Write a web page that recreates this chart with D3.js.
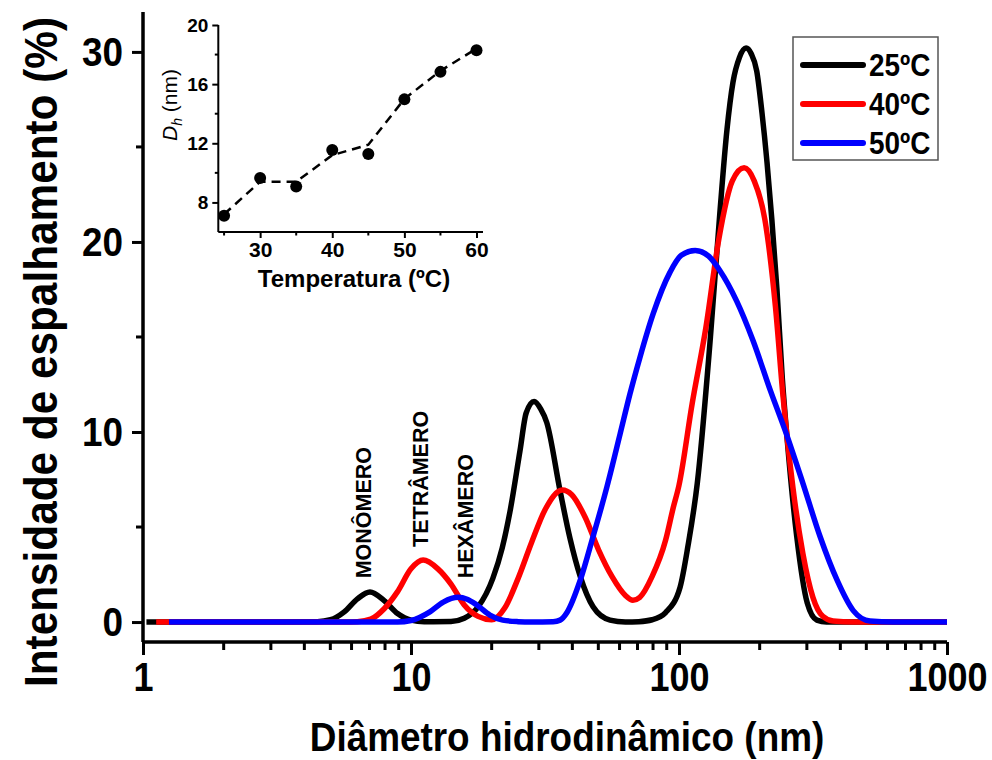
<!DOCTYPE html>
<html><head><meta charset="utf-8">
<script src="https://cdn.jsdelivr.net/npm/d3@7"></script>
<style>
html,body{margin:0;padding:0;background:#fff;}
svg text{font-family:"Liberation Sans",Arial,sans-serif;font-weight:bold;fill:#000;}
</style></head>
<body><svg id="chart" width="992" height="760"></svg>
<script>
// ---------- main chart data (diameter nm, intensity %) ----------
const diam25 = [1.03,3.0,4.47,5.01,5.62,6.31,7.03,7.94,8.91,10,11.2,14.1,15.8,17.8,20.2,21.9,23.4,25.5,26.9,28.8,30.5,32.1,36.0,39.2,42.8,47.8,55.3,63.1,70.8,79.4,89.1,101,108,117,131,142,151,159,168,178,186,195,204,213,222,232,243,253,275,301,327,355,1000];
const int25  = [0,0,0.02,0.12,0.52,1.22,1.58,1.13,0.45,0.1,0.02,0.03,0.2,0.8,2.3,3.9,5.8,9.0,11.0,11.6,11.2,10.5,6.9,4.4,2.4,0.8,0.1,0,0.02,0.12,0.5,1.85,4.0,7.3,15,21.5,25.9,28.4,29.7,30.2,29.9,29.0,26.8,24.2,21.2,17.5,12.8,9.7,4.5,1.0,0.1,0,0];

const diam40 = [1.12,5.62,6.31,7.08,7.94,8.91,10,11.1,12.6,14.1,15.8,17.8,20.0,22.4,25.1,28.2,31.6,36.7,39.8,44.7,50.1,56.2,63.1,67.3,71.4,79.4,89.1,95.1,100,112,126,141,158,175,191,209,229,244,266,290,316,344,376,447,1000];
const int40  = [0,0,0.02,0.15,0.7,1.6,2.8,3.26,2.8,2.0,0.9,0.3,0.12,0.75,2.3,4.2,5.9,6.95,6.7,5.5,3.8,2.4,1.4,1.15,1.3,2.4,4.3,6.0,7.2,11.5,15.5,20.2,23.2,23.9,23.2,21.2,16.6,12.0,7.1,3.6,1.3,0.3,0.05,0,0];

const diam50 = [1.25,8.91,10,11.8,13.2,15.0,16.2,17.6,19.7,22.0,25.1,28.2,33.9,36.0,38.2,42.8,47.8,53.8,60.3,65.6,71.4,80.0,92.5,102,115,129,142,164,189,219,253,290,336,389,447,516,631,1000];
const int50  = [0,0,0.08,0.55,1.05,1.3,1.2,0.9,0.37,0.1,0.02,0,0.02,0.1,0.5,2.2,4.5,7.1,9.9,12.0,13.9,16.2,18.4,19.3,19.55,19.25,18.5,16.9,14.8,12.2,9.8,7.3,4.5,2.2,0.6,0.05,0,0];

const seriesNames  = ["25ºC","40ºC","50ºC"];
const seriesColors = ["#000000","#ff0000","#0000ff"];

const xTickValues = [1,10,100,1000];
const yTickValues = [0,10,20,30];
const yMinorTicks = [5,15,25];

const peakLabels = ["MONÔMERO","TETRÂMERO","HEXÂMERO"];
const peakLabelDiam = [6.65,10.8,16.0];
const peakLabelBase = [2.3,3.95,2.3];

// ---------- inset data ----------
const insetTemp  = [25,30,35,40,45,50,55,60];
const insetDh    = [7.1,9.65,9.08,11.55,11.28,14.97,16.83,18.3];
const insetTrend = [7.2,9.4,9.4,11.2,11.9,15.0,16.9,18.4];
const insetXTicks = [30,40,50,60];
const insetXMinor = [25,35,45,55];
const insetYTicks = [8,12,16,20];
const insetYMinor = [10,14,18];

const FONT = '"Liberation Sans",Arial,sans-serif';
const SX = 0.9; // condensed look of the reference lettering
const svg = d3.select("#chart");

// ---------- main scales ----------
const x = d3.scaleLog().domain([1,1000]).range([143,947]);
const y = d3.scaleLinear().domain([-1.05,32.1]).range([642,12]);

const series = [
  {name:seriesNames[0], color:seriesColors[0], pts:diam25.map((d,i)=>[d,int25[i]])},
  {name:seriesNames[1], color:seriesColors[1], pts:diam40.map((d,i)=>[d,int40[i]])},
  {name:seriesNames[2], color:seriesColors[2], pts:diam50.map((d,i)=>[d,int50[i]])}
];

const line = d3.line().x(d=>x(d[0])).y(d=>y(d[1])).curve(d3.curveMonotoneX);
svg.append("g").selectAll("path").data(series).join("path")
  .attr("d",d=>line(d.pts)).attr("fill","none")
  .attr("stroke",d=>d.color).attr("stroke-width",5.5)
  .attr("stroke-linejoin","round").attr("stroke-linecap","butt");

// axes
const minorX = [];
[1,10,100].forEach(b=>{for(let k=2;k<=9;k++) minorX.push(b*k);});

const xAxis = svg.append("g").attr("transform",`translate(0,${y.range()[0]})`);
xAxis.call(d3.axisBottom(x).tickValues(xTickValues).tickFormat(d3.format("d")).tickSize(13).tickPadding(8));
xAxis.append("g").selectAll("line").data(minorX).join("line")
  .attr("x1",d=>x(d)).attr("x2",d=>x(d)).attr("y1",0).attr("y2",8)
  .attr("stroke","#000").attr("stroke-width",3);
xAxis.select(".domain").attr("d",`M${x.range()[0]},0H${x.range()[1]}`).attr("stroke-width",3.5);
xAxis.selectAll(".tick line").attr("stroke-width",3);
xAxis.selectAll(".tick text").attr("font-size",40).attr("font-family",FONT).attr("font-weight","bold")
  .attr("transform",`scale(${SX},1)`);

const yAxis = svg.append("g").attr("transform",`translate(${x.range()[0]},0)`);
yAxis.call(d3.axisLeft(y).tickValues(yTickValues).tickSize(11).tickPadding(9));
yAxis.append("g").selectAll("line").data(yMinorTicks).join("line")
  .attr("x1",0).attr("x2",-7).attr("y1",d=>y(d)).attr("y2",d=>y(d))
  .attr("stroke","#000").attr("stroke-width",3);
yAxis.select(".domain").attr("d",`M0,${y.range()[1]}V${y.range()[0]}`).attr("stroke-width",3.5);
yAxis.selectAll(".tick line").attr("stroke-width",3);
yAxis.selectAll(".tick text").attr("font-size",41).attr("font-family",FONT).attr("font-weight","bold")
  .attr("x",-20/SX).attr("transform",`scale(${SX},1)`);

// axis titles
svg.append("text").attr("transform",`translate(567,751) scale(${SX},1)`).attr("text-anchor","middle")
  .attr("font-size",41).text("Diâmetro hidrodinâmico (nm)");
svg.append("text").attr("transform",`translate(57,352) rotate(-90) scale(0.92,1)`).attr("text-anchor","middle")
  .attr("font-size",46).text("Intensidade de espalhamento (%)");

// peak labels
svg.append("g").selectAll("text").data(peakLabels).join("text")
  .attr("transform",(d,i)=>`translate(${x(peakLabelDiam[i])},${y(peakLabelBase[i])}) rotate(-90)`)
  .attr("dy","0.36em").attr("font-size",21.5).text(d=>d);

// legend
const lg = svg.append("g");
lg.append("rect").attr("x",793).attr("y",37).attr("width",145).attr("height",123)
  .attr("fill","#fff").attr("stroke","#555").attr("stroke-width",1.5);
series.forEach((s,i)=>{
  const ly = 65 + i*39;
  lg.append("line").attr("x1",803).attr("x2",863).attr("y1",ly).attr("y2",ly)
    .attr("stroke",s.color).attr("stroke-width",6).attr("stroke-linecap","round");
  lg.append("text").attr("transform",`translate(869,${ly}) scale(${SX},1)`).attr("dy","0.36em")
    .attr("font-size",31).text(s.name);
});

// ---------- inset ----------
const ix = d3.scaleLinear().domain([24.2,60.9]).range([218.3,483]);
const iy = d3.scaleLinear().domain([6,20]).range([232,25]);
const inset = svg.append("g");

inset.append("path").datum(insetTemp.map((t,i)=>[t,insetTrend[i]]))
  .attr("d",d3.line().x(d=>ix(d[0])).y(d=>iy(d[1])))
  .attr("fill","none").attr("stroke","#000").attr("stroke-width",2.5).attr("stroke-dasharray","9,6");
inset.append("g").selectAll("circle").data(insetTemp.map((t,i)=>[t,insetDh[i]])).join("circle")
  .attr("cx",d=>ix(d[0])).attr("cy",d=>iy(d[1])).attr("r",6).attr("fill","#000");

const ixa = inset.append("g").attr("transform",`translate(0,${iy.range()[0]})`);
ixa.call(d3.axisBottom(ix).tickValues(insetXTicks).tickSize(6).tickPadding(4));
ixa.append("g").selectAll("line").data(insetXMinor).join("line")
  .attr("x1",d=>ix(d)).attr("x2",d=>ix(d)).attr("y1",0).attr("y2",3.5).attr("stroke","#000").attr("stroke-width",2);
ixa.select(".domain").attr("d",`M${ix.range()[0]},0H${ix.range()[1]}`).attr("stroke-width",2);
ixa.selectAll(".tick line").attr("stroke-width",2);
ixa.selectAll(".tick text").attr("font-size",21).attr("font-family",FONT).attr("font-weight","bold");

const iya = inset.append("g").attr("transform",`translate(${ix.range()[0]},0)`);
iya.call(d3.axisLeft(iy).tickValues(insetYTicks).tickSize(6).tickPadding(4));
iya.append("g").selectAll("line").data(insetYMinor).join("line")
  .attr("x1",0).attr("x2",-3.5).attr("y1",d=>iy(d)).attr("y2",d=>iy(d)).attr("stroke","#000").attr("stroke-width",2);
iya.select(".domain").attr("d",`M0,${iy.range()[1]}V${iy.range()[0]}`).attr("stroke-width",2);
iya.selectAll(".tick line").attr("stroke-width",2);
iya.selectAll(".tick text").attr("font-size",19).attr("font-family",FONT).attr("font-weight","bold");

inset.append("text").attr("x",354).attr("y",287).attr("text-anchor","middle").attr("font-size",24)
  .text("Temperatura (ºC)");
const dh = inset.append("text").attr("transform","translate(177,105) rotate(-90)").attr("text-anchor","middle")
  .attr("font-size",21).attr("font-weight","normal");
dh.append("tspan").attr("font-style","italic").attr("font-weight","normal").text("D");
dh.append("tspan").attr("font-style","italic").attr("font-weight","normal").attr("font-size",14).attr("dy",5).text("h");
dh.append("tspan").attr("font-weight","normal").attr("dy",-5).text(" (nm)");
</script></body></html>
